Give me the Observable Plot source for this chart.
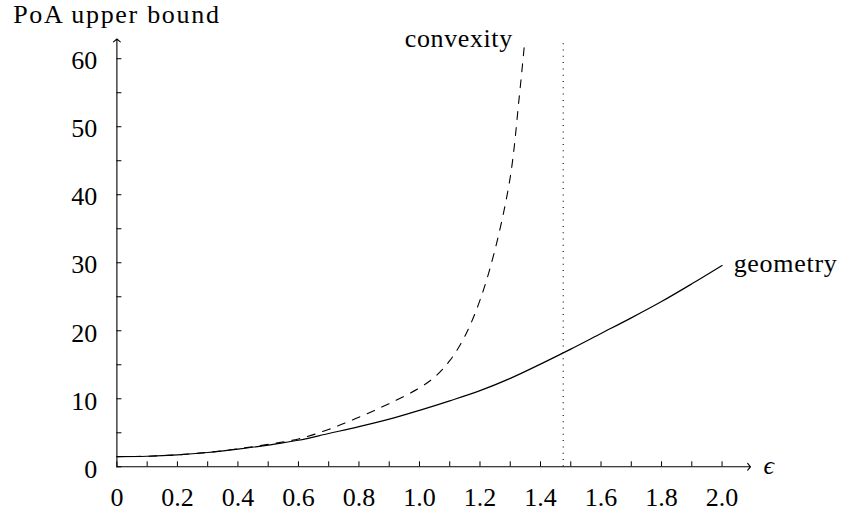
<!DOCTYPE html>
<html>
<head>
<meta charset="utf-8">
<script src="https://cdn.jsdelivr.net/npm/d3@7"></script>
<script src="https://cdn.jsdelivr.net/npm/@observablehq/plot@0.6"></script>
<style>
  html, body { margin: 0; padding: 0; background: #fff; }
  svg { display: block; }
</style>
</head>
<body>
<div id="chart"></div>
<script>
// epsilon samples for the "geometry" bound
const geomEps = [0, 0.1, 0.2, 0.3, 0.4, 0.5, 0.6, 0.7, 0.8, 0.9, 1.0, 1.1, 1.2, 1.3, 1.4, 1.5, 1.6, 1.7, 1.8, 1.9, 2.0];
const geometry = [1.5, 1.55, 1.75, 2.1, 2.6, 3.2, 3.9, 4.9, 5.9, 7.0, 8.3, 9.7, 11.2, 13.0, 15.1, 17.3, 19.6, 21.9, 24.3, 26.9, 29.6];

// epsilon samples for the "convexity" bound
const convEps = [0, 0.1, 0.2, 0.3, 0.4, 0.5, 0.6, 0.7, 0.8, 0.9, 1.0, 1.05, 1.1, 1.15, 1.2, 1.25, 1.3, 1.33, 1.348];
const convexity = [1.5, 1.55, 1.76, 2.12, 2.65, 3.3, 4.1, 5.5, 7.3, 9.3, 11.6, 13.2, 15.6, 19.2, 24.5, 32.0, 42.6, 54.5, 62.6];

// vertical dotted marker
const markerEps = [1.475];
const markerTop = 62.7;

// axes
const xMax = 2.094;
const yMax = 62.9;
const xMinorTicks = [0, 0.1, 0.2, 0.3, 0.4, 0.5, 0.6, 0.7, 0.8, 0.9, 1.0, 1.1, 1.2, 1.3, 1.4, 1.5, 1.6, 1.7, 1.8, 1.9, 2.0];
const xLabelTicks = [0, 0.2, 0.4, 0.6, 0.8, 1.0, 1.2, 1.4, 1.6, 1.8, 2.0];
const xTickLabels = ["0", "0.2", "0.4", "0.6", "0.8", "1.0", "1.2", "1.4", "1.6", "1.8", "2.0"];
const yMinorTicks = [0, 5, 10, 15, 20, 25, 30, 35, 40, 45, 50, 55, 60];
const yLabelTicks = [0, 10, 20, 30, 40, 50, 60];
const yTickLabels = ["0", "10", "20", "30", "40", "50", "60"];

const geomData = geomEps.map((e, i) => ({e, v: geometry[i]}));
const convData = convEps.map((e, i) => ({e, v: convexity[i]}));
const xLabelMap = new Map(xLabelTicks.map((t, i) => [t, xTickLabels[i]]));
const yLabelMap = new Map(yLabelTicks.map((t, i) => [t, yTickLabels[i]]));

const chart = Plot.plot({
  width: 841,
  height: 516,
  marginLeft: 116.4,
  marginRight: 91,
  marginTop: 38.5,
  marginBottom: 49.7,
  style: {fontFamily: "'Liberation Serif', 'DejaVu Serif', serif", fontSize: "26px", background: "#fff", color: "#000"},
  x: {domain: [0, xMax], axis: null},
  y: {domain: [0, yMax], axis: null},
  marks: [
    // inward ticks
    Plot.axisX({ticks: xMinorTicks, tickSize: -5, text: null, strokeWidth: 1, label: null}),
    Plot.axisY({ticks: yMinorTicks, tickSize: -5, text: null, strokeWidth: 1, label: null}),
    // tick labels
    Plot.axisX({ticks: xLabelTicks, tickSize: 0, tickPadding: 21, tickFormat: d => xLabelMap.get(d), label: null}),
    Plot.axisY({ticks: yLabelTicks, tickSize: 0, tickPadding: 19.7, dy: 2.4, tickFormat: d => yLabelMap.get(d), label: null}),
    // axis lines with arrows
    Plot.arrow([0], {x1: 0, y1: 0, x2: xMax, y2: 0, stroke: "#000", strokeWidth: 1.1, headLength: 6, headAngle: 100}),
    Plot.arrow([0], {x1: 0, y1: 0, x2: 0, y2: yMax, stroke: "#000", strokeWidth: 1.1, headLength: 6, headAngle: 100}),
    // dotted marker
    Plot.ruleX(markerEps, {y1: 0, y2: markerTop, stroke: "#000", strokeWidth: 1.1, strokeDasharray: "1,5.3"}),
    // curves
    Plot.line(convData, {x: "e", y: "v", stroke: "#000", strokeWidth: 1.1, strokeDasharray: "8,8", curve: "catmull-rom"}),
    Plot.line(geomData, {x: "e", y: "v", stroke: "#000", strokeWidth: 1.2, curve: "catmull-rom"}),
    // curve labels
    Plot.text([convData[convData.length - 1]], {x: "e", y: "v", text: () => "convexity", textAnchor: "end", dx: -12, dy: -2}),
    Plot.text([geomData[geomData.length - 1]], {x: "e", y: "v", text: () => "geometry", textAnchor: "start", dx: 11.6, dy: -1.5}),
    // axis labels
    Plot.text([0], {x: xMax, y: 0, text: () => "\u03F5", textAnchor: "start", dx: 13, dy: -1, fontStyle: "italic"}),
    Plot.text([0], {x: 0, y: yMax, text: () => "PoA upper bound", textAnchor: "middle", dy: -24.1})
  ]
});

// widen word labels slightly to approximate the reference typeface metrics
const spacing = {"PoA upper bound": "1.7px", "convexity": "0.6px", "geometry": "0.7px"};
d3.select(chart).selectAll("text").each(function() {
  const s = spacing[this.textContent];
  if (s) this.setAttribute("letter-spacing", s);
});
document.getElementById("chart").appendChild(chart);
</script>
</body>
</html>
